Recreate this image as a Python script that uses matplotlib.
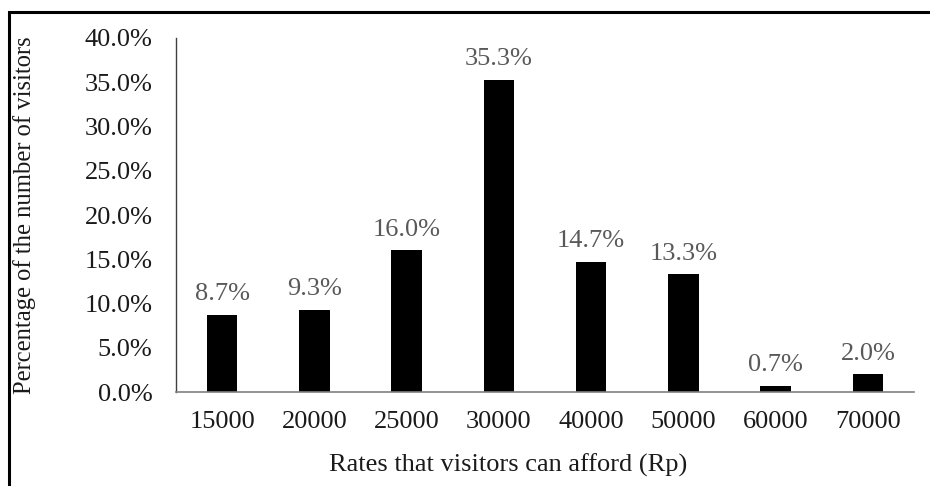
import matplotlib
matplotlib.use("Agg")
import matplotlib.pyplot as plt
from matplotlib.patches import Rectangle

plt.rcParams['font.family'] = ['Liberation Serif', 'DejaVu Serif']

rates = ['15000', '20000', '25000', '30000', '40000', '50000', '60000', '70000']
visitors_pct = [8.7, 9.3, 16.0, 35.3, 14.7, 13.3, 0.7, 2.0]
y_ticks = [0, 5, 10, 15, 20, 25, 30, 35, 40]

fig = plt.figure(figsize=(9.3, 4.86), dpi=100)
ax = fig.add_axes([176 / 930, 1 - 392 / 486, (914 - 176) / 930, (392 - 38) / 486])

x = range(len(rates))
ax.bar(x, visitors_pct, width=0.33, color='black')

for xi, v in zip(x, visitors_pct):
    ax.text(xi, v + 1.1, f'{v:.1f}%', ha='center', va='bottom',
            fontsize=19, color='#595959')

ax.set_xlim(-0.5, len(rates) - 0.5)
ax.set_ylim(0, 40)
ax.set_yticks(y_ticks)
ax.set_yticklabels([f'{t:.1f}%' for t in y_ticks])
ax.set_xticks(list(x))
ax.set_xticklabels(rates)
ax.tick_params(axis='both', length=0, labelsize=19, colors='#1a1a1a')
ax.tick_params(axis='x', pad=14)
ax.tick_params(axis='y', pad=17)

for side in ['top', 'right']:
    ax.spines[side].set_visible(False)
ax.spines['left'].set_color('#404040')
ax.spines['bottom'].set_color('#808080')
ax.spines['left'].set_linewidth(1.0)
ax.spines['bottom'].set_linewidth(1.2)

fig.text(25 / 930, 1 - 215 / 486, 'Percentage of the number of visitors',
         rotation=90, ha='center', va='center', fontsize=17.7, color='#1a1a1a')
fig.text(508 / 930, 1 - 465 / 486, 'Rates that visitors can afford (Rp)',
         ha='center', va='center', fontsize=19, color='#1a1a1a')

# outer frame, open on the right and bottom edges
fig.patches.append(Rectangle((8.5 / 930, -0.1), 1.2, 1 - 12.5 / 486 + 0.1,
                             transform=fig.transFigure, fill=False,
                             edgecolor='black', linewidth=2.2))

fig.savefig('out.png', dpi=100)
